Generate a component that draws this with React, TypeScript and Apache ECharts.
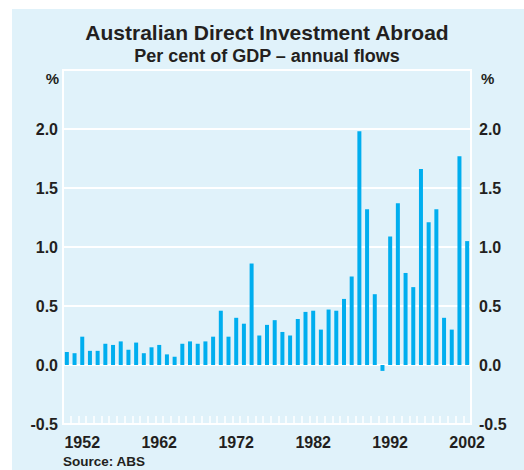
import React, { useEffect, useRef } from "react";
import * as echarts from "echarts";

const years: string[] = [];
for (let y = 1950; y <= 2002; y++) years.push(String(y));

const values = [
  0.11, 0.10, 0.24, 0.12, 0.12, 0.18, 0.17, 0.20, 0.13, 0.19,
  0.10, 0.15, 0.17, 0.09, 0.07, 0.18, 0.20, 0.18, 0.20, 0.24,
  0.46, 0.24, 0.40, 0.35, 0.86, 0.25, 0.34, 0.38, 0.28, 0.25,
  0.39, 0.45, 0.46, 0.30, 0.47, 0.46, 0.56, 0.75, 1.98, 1.32,
  0.60, -0.05, 1.09, 1.37, 0.78, 0.66, 1.66, 1.21, 1.32, 0.40,
  0.30, 1.77, 1.05,
];

const labelYears = ["1952", "1962", "1972", "1982", "1992", "2002"];

const title = "Australian Direct Investment Abroad";
const subtitle = "Per cent of GDP – annual flows";
const source = "Source: ABS";

const FONT = "'Liberation Sans', Arial, Helvetica, sans-serif";
const TEXT = "#231f20";
const BAR = "#00aeef";
const BG = "#e0f2fa";

export default function App() {
  const ref = useRef<HTMLDivElement>(null);
  useEffect(() => {
    if (!ref.current) return;
    const chart = echarts.init(ref.current, undefined, { renderer: "svg" });
    const yAxisCommon = {
      type: "value" as const,
      min: -0.5,
      max: 2.5,
      interval: 0.5,
      axisLine: { show: false },
      axisTick: { show: false },
      splitLine: { show: true, lineStyle: { color: "#ffffff", width: 2 } },
      axisLabel: {
        color: TEXT,
        fontFamily: FONT,
        fontWeight: "bold" as const,
        fontSize: 16,
        formatter: (v: number) => (v > 2.01 ? "" : v.toFixed(1)),
      },
    };
    chart.setOption({
      animation: false,
      backgroundColor: "transparent",
      grid: {
        left: 63,
        right: 53,
        top: 70,
        bottom: 46,
        show: true,
        borderColor: "#ffffff",
        borderWidth: 2,
        backgroundColor: "transparent",
      },
      xAxis: {
        type: "category",
        data: years,
        boundaryGap: true,
        axisLine: { show: true, onZero: false, lineStyle: { color: "#ffffff", width: 2 } },
        axisTick: {
          show: true,
          inside: true,
          length: 8,
          interval: 0,
          lineStyle: { color: "#ffffff", width: 1.5 },
        },
        axisLabel: {
          color: TEXT,
          fontFamily: FONT,
          fontWeight: "bold",
          fontSize: 16,
          margin: 10,
          interval: (_i: number, v: string) => labelYears.indexOf(v) >= 0,
        },
        splitLine: { show: false },
      },
      yAxis: [
        { ...yAxisCommon, position: "left", axisLabel: { ...yAxisCommon.axisLabel, margin: 5 } },
        { ...yAxisCommon, position: "right", axisLabel: { ...yAxisCommon.axisLabel, margin: 8 } },
      ],
      series: [
        {
          type: "bar",
          data: values,
          barWidth: 4,
          itemStyle: { color: BAR },
          yAxisIndex: 0,
        },
      ],
      graphic: [
        {
          type: "text",
          style: {
            text: title,
            x: 267,
            y: 32,
            align: "center",
            verticalAlign: "middle",
            fontFamily: FONT,
            fontWeight: "bold",
            fontSize: 21,
            fill: TEXT,
          },
        },
        {
          type: "text",
          style: {
            text: subtitle,
            x: 267,
            y: 56,
            align: "center",
            verticalAlign: "middle",
            fontFamily: FONT,
            fontWeight: "bold",
            fontSize: 18,
            fill: TEXT,
          },
        },
        {
          type: "text",
          style: {
            text: "%",
            x: 59,
            y: 78,
            align: "right",
            verticalAlign: "middle",
            fontFamily: FONT,
            fontWeight: "bold",
            fontSize: 15,
            fill: TEXT,
          },
        },
        {
          type: "text",
          style: {
            text: "%",
            x: 481,
            y: 78,
            align: "left",
            verticalAlign: "middle",
            fontFamily: FONT,
            fontWeight: "bold",
            fontSize: 15,
            fill: TEXT,
          },
        },
        {
          type: "text",
          style: {
            text: source,
            x: 63,
            y: 461,
            align: "left",
            verticalAlign: "middle",
            fontFamily: FONT,
            fontWeight: "bold",
            fontSize: 13.5,
            fill: TEXT,
          },
        },
      ],
    });
    return () => chart.dispose();
  }, []);
  return (
    <div style={{ position: "fixed", left: 0, top: 0, width: 524, height: 470, background: "#ffffff" }}>
      <div style={{ position: "absolute", left: 12, top: 9, right: 0, bottom: 0, background: BG }} />
      <div ref={ref} style={{ position: "absolute", left: 0, top: 0, width: 524, height: 470 }} />
    </div>
  );
}
